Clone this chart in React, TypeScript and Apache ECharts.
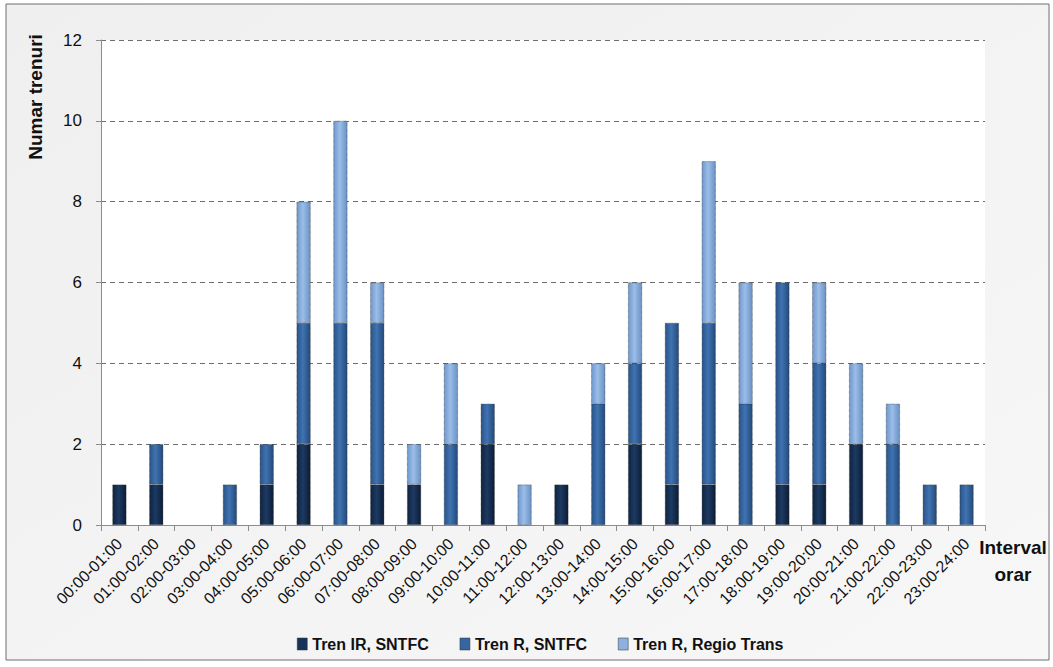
import React, { useEffect, useRef } from "react";
import * as echarts from "echarts";

const categories = [
  "00:00-01:00", "01:00-02:00", "02:00-03:00", "03:00-04:00", "04:00-05:00", "05:00-06:00",
  "06:00-07:00", "07:00-08:00", "08:00-09:00", "09:00-10:00", "10:00-11:00", "11:00-12:00",
  "12:00-13:00", "13:00-14:00", "14:00-15:00", "15:00-16:00", "16:00-17:00", "17:00-18:00",
  "18:00-19:00", "19:00-20:00", "20:00-21:00", "21:00-22:00", "22:00-23:00", "23:00-24:00",
];
const trenIR = [1, 1, 0, 0, 1, 2, 0, 1, 1, 0, 2, 0, 1, 0, 2, 1, 1, 0, 1, 1, 2, 0, 0, 0];
const trenR = [0, 1, 0, 1, 1, 3, 5, 4, 0, 2, 1, 0, 0, 3, 2, 4, 4, 3, 5, 3, 0, 2, 1, 1];
const trenRT = [0, 0, 0, 0, 0, 3, 5, 1, 1, 2, 0, 1, 0, 1, 2, 0, 4, 3, 0, 2, 2, 1, 0, 0];
const seriesNames = ["Tren IR, SNTFC", "Tren R, SNTFC", "Tren R, Regio Trans"];
const yTicks = { min: 0, max: 12, interval: 2 };

const FONT = "'Liberation Sans', 'Noto Sans', sans-serif";

function grad(c1: string, c2: string, c3: string) {
  return new echarts.graphic.LinearGradient(0, 0, 1, 0, [
    { offset: 0, color: c1 },
    { offset: 0.45, color: c2 },
    { offset: 1, color: c3 },
  ]);
}

export default function App() {
  const ref = useRef<HTMLDivElement>(null);
  useEffect(() => {
    if (!ref.current) return;
    const chart = echarts.init(ref.current, null, { renderer: "svg" });
    const colors = [
      grad("#0f2440", "#1d3a63", "#0c1d35"),
      grad("#2a5488", "#3f73b2", "#244a7a"),
      grad("#6f98cc", "#9bbde8", "#6a92c4"),
    ];
    const solid = ["#17325a", "#3566a3", "#8cb1e0"];
    const datas = [trenIR, trenR, trenRT];
    chart.setOption({
      animation: false,
      backgroundColor: "transparent",
      graphic: [
        {
          type: "rect",
          z: -10,
          shape: { x: 6, y: 4, width: 1043, height: 656 },
          style: {
            fill: new echarts.graphic.LinearGradient(0, 0, 1, 1, [
              { offset: 0, color: "#efefef" },
              { offset: 1, color: "#f7f7f7" },
            ]),
            stroke: "#6e6e6e",
            lineWidth: 1,
          },
        },
        {
          type: "rect",
          z: -9,
          shape: { x: 101, y: 40, width: 884, height: 485 },
          style: { fill: "#ffffff" },
        },
        {
          type: "text",
          x: 35,
          y: 97,
          rotation: Math.PI / 2,
          style: {
            text: "Numar trenuri",
            font: `bold 19px ${FONT}`,
            fill: "#111111",
            align: "center",
            verticalAlign: "middle",
          },
        },
        {
          type: "text",
          x: 1013,
          y: 561,
          style: {
            text: "Interval\norar",
            font: `bold 19px ${FONT}`,
            fill: "#111111",
            align: "center",
            verticalAlign: "middle",
            lineHeight: 27,
          },
        },
      ],
      grid: { left: 101, right: 68, top: 40, bottom: 142, containLabel: false },
      legend: {
        top: 631,
        left: 292,
        itemWidth: 10,
        itemHeight: 12,
        itemGap: 31,
        icon: "rect",
        textStyle: { fontFamily: FONT, fontWeight: "bold", fontSize: 16, color: "#111111" },
        data: seriesNames.map((n, i) => ({ name: n, itemStyle: { color: solid[i], borderColor: "#333", borderWidth: 0.5 } })),
      },
      xAxis: {
        type: "category",
        data: categories,
        axisLine: { lineStyle: { color: "#8c8c8c" } },
        axisTick: { show: true, length: 6, lineStyle: { color: "#8c8c8c" } },
        axisLabel: { rotate: 45, fontFamily: FONT, fontSize: 16, color: "#111111", margin: 16, interval: 0 },
      },
      yAxis: {
        type: "value",
        min: yTicks.min,
        max: yTicks.max,
        interval: yTicks.interval,
        axisLine: { show: true, lineStyle: { color: "#8c8c8c" } },
        axisTick: { show: true, length: 5, lineStyle: { color: "#8c8c8c" } },
        axisLabel: { fontFamily: FONT, fontSize: 17, color: "#111111", margin: 19 },
        splitLine: { show: true, lineStyle: { color: "#6e6e6e", type: [5, 4], width: 1 } },
      },
      series: datas.map((d, i) => ({
        name: seriesNames[i],
        type: "bar",
        stack: "total",
        barWidth: 14,
        data: d.map((v) => (v === 0 ? null : v)),
        itemStyle: { color: colors[i], borderColor: "#2a2a2a", borderWidth: 0.6, borderType: "dotted" },
      })),
    });
    return () => chart.dispose();
  }, []);
  return <div ref={ref} style={{ position: "absolute", left: 0, top: 0, width: 1053, height: 667 }} />;
}
